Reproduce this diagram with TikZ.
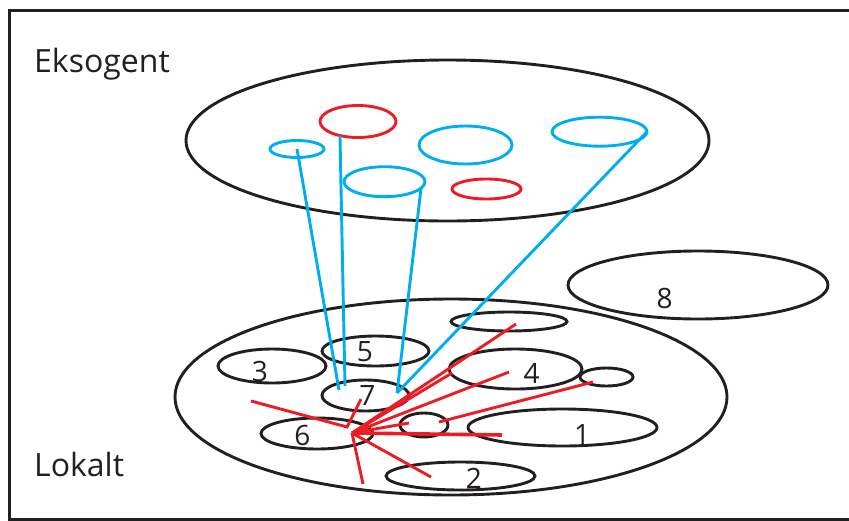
\documentclass[tikz,border=0pt]{standalone}
\usepackage{fontspec}
\setmainfont{Open Sans}
\usetikzlibrary{shapes.geometric,positioning}
\definecolor{lred}{RGB}{237,28,36}
\definecolor{lblue}{RGB}{0,174,239}
\definecolor{ink}{RGB}{35,31,32}

\begin{document}
\begin{tikzpicture}[
        x=1pt, y=-1pt,
        blob/.style={ellipse, draw=ink, line width=2.9pt, inner sep=0pt, outer sep=0pt},
        redblob/.style={blob, draw=lred},
        blueblob/.style={blob, draw=lblue},
        dims/.style 2 args={minimum width=#1pt, minimum height=#2pt},
        num/.style={text=ink, inner sep=0pt, font=\fontsize{28}{28}\selectfont},
        heading/.style={text=ink, anchor=base west, inner sep=0pt, font=\fontsize{32}{32}\selectfont},
        link/.style={lblue, line width=2.9pt},
        hit/.style={lred, line width=2.9pt}
    ]
        \useasboundingbox (0,0) rectangle (849,520);

        % Frame, open to the right
        \draw[ink, line width=3pt] (870,10.5) -- (9,10.5) -- (9,519) -- (870,519);

        % Headings
        \node[heading] (eks) at (34,72) {Eksogent};
        \node[heading] (lok) at (34,476) {Lokalt};

        % Exogenous level
        \node[blob, dims={523}{161}] (ext) at (447.5,140.5) {};
        \node[redblob, dims={76}{32}] (r1) at (358,121.5) {};
        \node[redblob, dims={69}{20}] (r2) at (486.5,189) {};
        \node[blueblob, dims={54}{17}] (b1) at (297,149) {};
        \node[blueblob, dims={81}{30}] (b2) at (384.5,181.7) {};
        \node[blueblob, dims={93}{38}] (b3) at (465.5,145) {};
        \node[blueblob, dims={95}{29}] (b4) at (599.5,131.7) {};

        % Local level
        \node[blob, dims={552}{196}] (loc) at (451,397) {};
        \node[blob, dims={189}{37}] (e1) at (562.5,427.5) {};
        \node[blob, dims={149}{28}] (e2) at (460.5,476) {};
        \node[blob, dims={108}{34}] (e3) at (272,366) {};
        \node[blob, dims={133}{40}] (e4) at (515.5,369) {};
        \node[blob, dims={107}{30}] (e5) at (375.5,351) {};
        \node[blob, dims={112}{31}] (e6) at (317,433.5) {};
        \node[blob, dims={87}{31}] (e7) at (365.5,395.5) {};
        \node[blob, dims={116}{19}] (ea) at (509,321.5) {};
        \node[blob, dims={53}{18}] (eb) at (606.5,377) {};
        \node[blob, dims={48}{24}] (ec) at (424,425) {};
        \node[blob, dims={260}{68}] (e8) at (698,285) {};

        % Numbers
        \node[num] (n1) at (582,434) {1};
        \node[num] (n2) at (474,478) {2};
        \node[num] (n3) at (260,371) {3};
        \node[num] (n4) at (531.5,373.5) {4};
        \node[num] (n5) at (365,352) {5};
        \node[num] (n6) at (302.5,435.5) {6};
        \node[num] (n7) at (367.5,395) {7};
        \node[num] (n8) at (664.5,298) {8};

        % Ends of the links inside 7
        \coordinate (t1) at (339,390);
        \coordinate (t2) at (345,386);
        \coordinate (t3) at (397,393);

        % Blue links down to 7
        \draw[link] (b1.center) -- (t1);
        \draw[link] (r1.218) -- (t2);
        \draw[link] (b2.-10) -- (t3);
        \draw[link] (b4.east) -- (t3);

        % Red spread from 6
        \coordinate (hub) at (352,433);
        \coordinate (p1) at (516,324);
        \coordinate (p2) at (452,373);
        \coordinate (p3) at (509,372);
        \coordinate (p4) at (409,423);
        \coordinate (p5) at (502,435);
        \coordinate (p6) at (431,477);
        \coordinate (p7) at (363,484);
        \coordinate (q1) at (439,422);
        \coordinate (q2) at (593,382);
        \coordinate (k1) at (251,401);
        \coordinate (k2) at (347,427);
        \coordinate (k3) at (361,399);

        \draw[hit] (hub) -- (p1);
        \draw[hit] (hub) -- (p2);
        \draw[hit] (hub) -- (p3);
        \draw[hit] (hub) -- (p4);
        \draw[hit, line width=3.6pt] (hub) -- (p5);
        \draw[hit] (hub) -- (p6);
        \draw[hit] (hub) -- (p7);
        \draw[hit] (q1) -- (q2);
        \draw[hit] (k1) -- (k2) -- (k3);
    \end{tikzpicture}
\end{document}
